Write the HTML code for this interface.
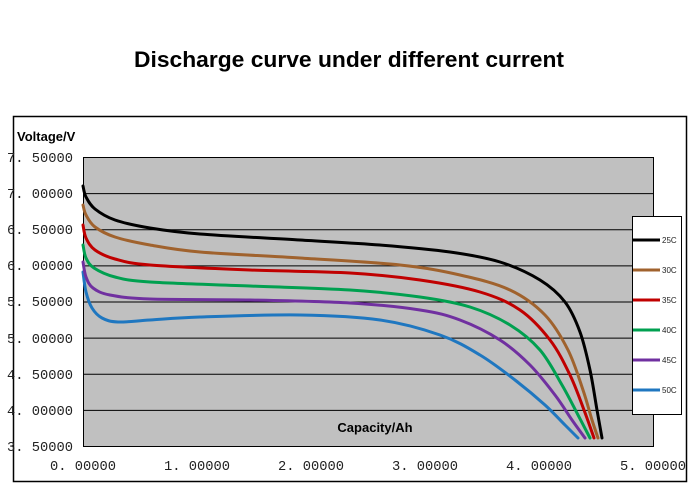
<!DOCTYPE html>
<html><head><meta charset="utf-8"><style>body{margin:0;background:#fff}svg{display:block}</style></head><body>
<svg id="s" width="700" height="500" xmlns="http://www.w3.org/2000/svg">
<rect width="700" height="500" fill="#fff"/>
<text x="349" y="67" text-anchor="middle" font-family="Liberation Sans, sans-serif" font-weight="bold" font-size="22.5" textLength="430" lengthAdjust="spacingAndGlyphs">Discharge curve under different current</text>
<rect x="13.5" y="116.5" width="673" height="365" fill="#fff" stroke="#000" stroke-width="1.5"/>
<rect x="83.5" y="157.5" width="570" height="289" fill="#c0c0c0" stroke="#000" stroke-width="1"/>
<g stroke="#000" stroke-width="1">
<line x1="83" y1="193.6" x2="653" y2="193.6"/><line x1="83" y1="229.8" x2="653" y2="229.8"/>
<line x1="83" y1="265.9" x2="653" y2="265.9"/><line x1="83" y1="302" x2="653" y2="302"/>
<line x1="83" y1="338.1" x2="653" y2="338.1"/><line x1="83" y1="374.3" x2="653" y2="374.3"/>
<line x1="83" y1="410.4" x2="653" y2="410.4"/>
</g>
<g font-family="Liberation Mono, monospace" font-size="14" fill="#222">
<text x="7" y="162" textLength="66" lengthAdjust="spacingAndGlyphs">7. 50000</text>
<text x="7" y="198" textLength="66" lengthAdjust="spacingAndGlyphs">7. 00000</text>
<text x="7" y="234" textLength="66" lengthAdjust="spacingAndGlyphs">6. 50000</text>
<text x="7" y="270" textLength="66" lengthAdjust="spacingAndGlyphs">6. 00000</text>
<text x="7" y="306" textLength="66" lengthAdjust="spacingAndGlyphs">5. 50000</text>
<text x="7" y="343" textLength="66" lengthAdjust="spacingAndGlyphs">5. 00000</text>
<text x="7" y="379" textLength="66" lengthAdjust="spacingAndGlyphs">4. 50000</text>
<text x="7" y="415" textLength="66" lengthAdjust="spacingAndGlyphs">4. 00000</text>
<text x="7" y="451" textLength="66" lengthAdjust="spacingAndGlyphs">3. 50000</text>
<text x="50" y="470" textLength="66" lengthAdjust="spacingAndGlyphs">0. 00000</text>
<text x="164" y="470" textLength="66" lengthAdjust="spacingAndGlyphs">1. 00000</text>
<text x="278" y="470" textLength="66" lengthAdjust="spacingAndGlyphs">2. 00000</text>
<text x="392" y="470" textLength="66" lengthAdjust="spacingAndGlyphs">3. 00000</text>
<text x="506" y="470" textLength="66" lengthAdjust="spacingAndGlyphs">4. 00000</text>
<text x="620" y="470" textLength="66" lengthAdjust="spacingAndGlyphs">5. 00000</text>
</g>
<text x="17" y="141" font-family="Liberation Sans, sans-serif" font-weight="bold" font-size="13">Voltage/V</text>
<text x="375" y="432" text-anchor="middle" font-family="Liberation Sans, sans-serif" font-weight="bold" font-size="13">Capacity/Ah</text>
<g id="curves" fill="none" stroke-width="3" stroke-linejoin="round" stroke-linecap="round"></g>
<rect x="632.5" y="216.5" width="49" height="198" fill="#fff" stroke="#000" stroke-width="1"/>
<g stroke-width="3">
<line x1="633" y1="240" x2="660" y2="240" stroke="#000"/>
<line x1="633" y1="270" x2="660" y2="270" stroke="#a0622d"/>
<line x1="633" y1="300" x2="660" y2="300" stroke="#c00000"/>
<line x1="633" y1="330" x2="660" y2="330" stroke="#00a050"/>
<line x1="633" y1="360" x2="660" y2="360" stroke="#7030a0"/>
<line x1="633" y1="390" x2="660" y2="390" stroke="#1f77c0"/>
</g>
<g font-family="Liberation Sans, sans-serif" font-size="8" fill="#222">
<text x="662" y="243">25C</text><text x="662" y="273">30C</text><text x="662" y="303">35C</text>
<text x="662" y="333">40C</text><text x="662" y="363">45C</text><text x="662" y="393">50C</text>
</g>
</svg>
<script>
var data=[
["#1f77c0",[[83,272],[86,292],[92,308],[102,318],[118,322],[150,320],[200,317],[300,315],[380,320],[440,335],[480,355],[515,380],[545,405],[565,425],[578,438]]],
["#7030a0",[[83,262],[86,277],[93,288],[110,295],[150,299],[250,300],[350,303],[420,310],[460,320],[500,340],[530,365],[555,395],[572,420],[585,438]]],
["#00a050",[[83,245],[86,258],[94,268],[115,277],[150,282],[250,286],[350,290],[420,297],[470,307],[510,325],[540,350],[562,385],[578,415],[590,438]]],
["#c00000",[[83,225],[86,238],[95,250],[115,259],[150,265],[250,270],[350,273],[420,280],[480,292],[520,310],[550,340],[570,375],[584,410],[594,438]]],
["#a0622d",[[83,205],[86,215],[95,227],[115,237],[150,245],[200,252],[300,258],[400,265],[460,275],[510,290],[545,315],[568,350],[583,390],[592,420],[598,438]]],
["#000",[[83,186],[86,197],[95,209],[115,220],[150,228],[200,234],[300,240],[380,245],[450,252],[500,262],[540,280],[565,302],[580,332],[590,370],[597,410],[602,438]]]
];
var g=document.getElementById("curves");
data.forEach(function(d){
 var p=d[1],s="M"+p[0][0]+","+p[0][1];
 for(var i=0;i<p.length-1;i++){
  var p0=p[i-1]||p[i],p1=p[i],p2=p[i+1],p3=p[i+2]||p2;
  var c1x=p1[0]+(p2[0]-p0[0])/6,c1y=p1[1]+(p2[1]-p0[1])/6;
  var c2x=p2[0]-(p3[0]-p1[0])/6,c2y=p2[1]-(p3[1]-p1[1])/6;
  s+=" C"+c1x+","+c1y+" "+c2x+","+c2y+" "+p2[0]+","+p2[1];
 }
 var e=document.createElementNS("http://www.w3.org/2000/svg","path");
 e.setAttribute("d",s);e.setAttribute("stroke",d[0]);g.appendChild(e);
});
</script>
</body></html>
